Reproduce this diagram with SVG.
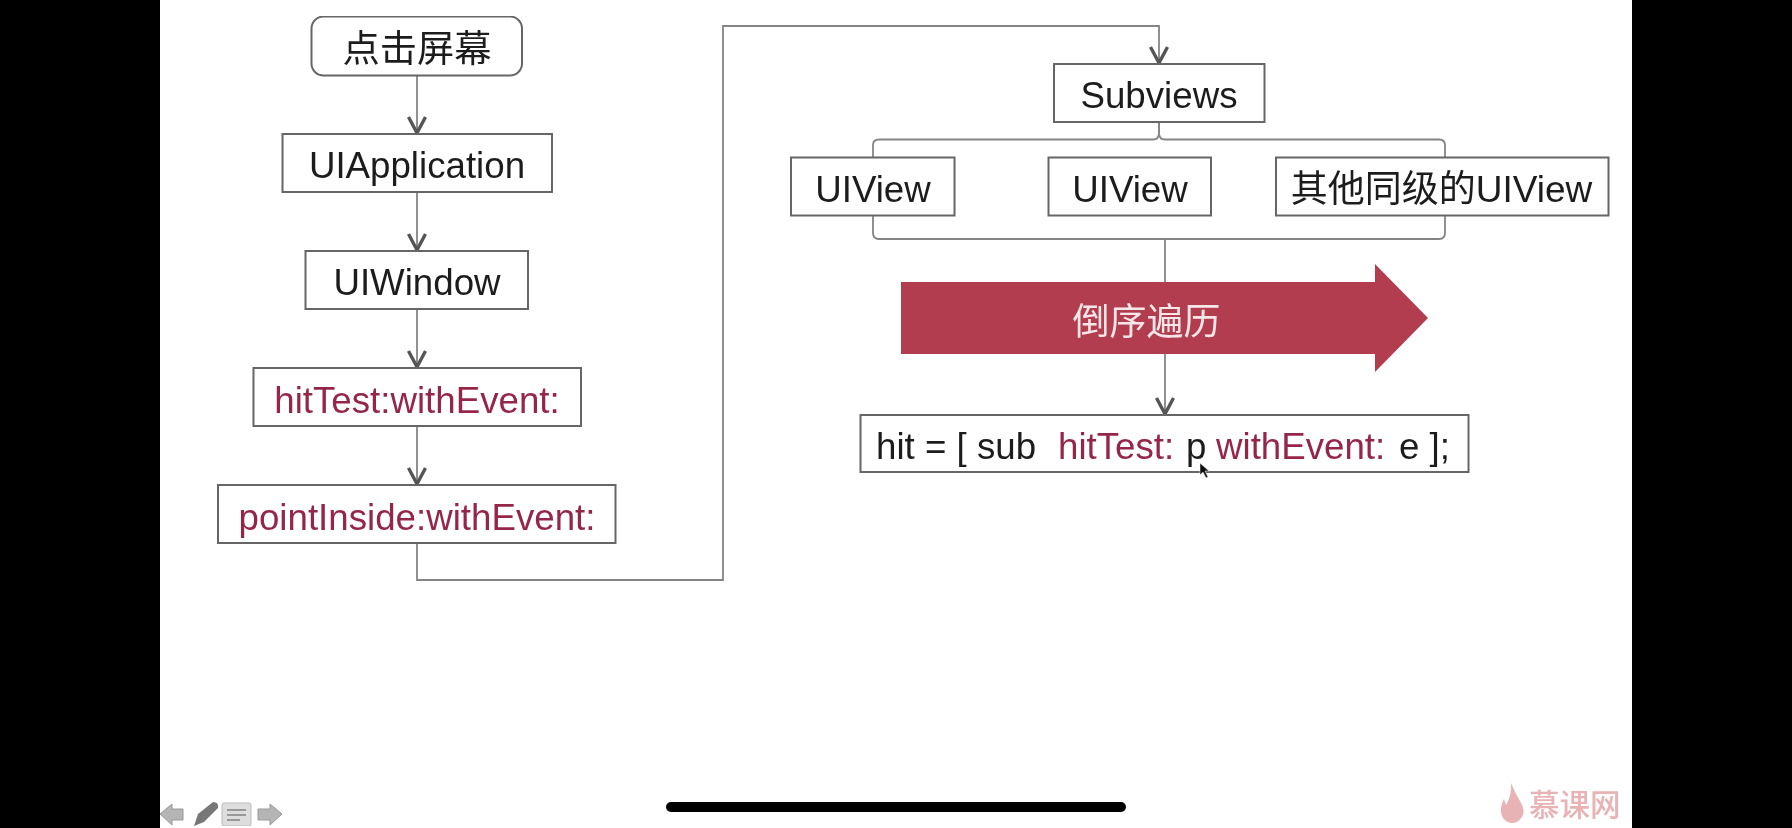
<svg xmlns="http://www.w3.org/2000/svg" width="1792" height="828" viewBox="0 0 1792 828">
<style>
.t{font-family:"Liberation Sans","Noto Sans CJK SC",sans-serif;font-size:36.7px;fill:#1c1c1c;text-anchor:middle}
.r{fill:#96264a}
.b{fill:#fff;stroke:#666;stroke-width:2}
.c{fill:none;stroke:#858585;stroke-width:1.8}
.l{font-family:"Liberation Sans","Noto Sans CJK SC",sans-serif;font-size:36.7px;fill:#1c1c1c}
.g{fill:#b5b5b5;stroke:#999;stroke-width:1}
</style>
<defs>
<marker id="arrow" markerUnits="userSpaceOnUse" markerWidth="24" markerHeight="24" refX="20" refY="12" orient="auto" viewBox="0 0 24 24">
<path d="M4 3.5 L20 12 L4 20.5" fill="none" stroke="#555" stroke-width="3.4"/>
</marker>
<filter id="soft" x="0" y="0" width="100%" height="100%"><feGaussianBlur stdDeviation="0.55"/></filter>
</defs>
<rect width="1792" height="828" fill="#000"/>
<rect x="160" width="1472" height="828" fill="#fff"/>
<g filter="url(#soft)">
<g id="connectors">
<path class="c" d="M417 76V133" marker-end="url(#arrow)"/>
<path class="c" d="M417 192V250" marker-end="url(#arrow)"/>
<path class="c" d="M417 309V367" marker-end="url(#arrow)"/>
<path class="c" d="M417 426V484" marker-end="url(#arrow)"/>
<path class="c" d="M417 543V580H723V26H1159V63" marker-end="url(#arrow)"/>
<path class="c" d="M1159 122V133Q1159 139.500 1153 139.500H879Q873 139.500 873 145V157"/>
<path class="c" d="M1159 122V133Q1159 139.500 1165 139.500H1439Q1445 139.500 1445 145V157"/>
<path class="c" d="M873 216V233Q873 239 879 239H1439Q1445 239 1445 233V216"/>
<path class="c" d="M1165 239V414" marker-end="url(#arrow)"/>
</g>
<g id="n-tap"><rect class="b" x="311.500" y="16.500" width="210.500" height="59" rx="12"/><text class="t" x="417" y="62" style="font-size:37.300px">点击屏幕</text></g>
<g id="n-app"><rect class="b" x="282.500" y="134" width="269.500" height="58"/><text class="t" x="417" y="178">UIApplication</text></g>
<g id="n-window"><rect class="b" x="305.500" y="251" width="222.500" height="58"/><text class="t" x="417" y="295">UIWindow</text></g>
<g id="n-hittest"><rect class="b" x="253.500" y="368" width="327.500" height="58"/><text class="t r" x="417" y="413">hitTest:withEvent:</text></g>
<g id="n-pointinside"><rect class="b" x="218" y="485" width="397.500" height="58"/><text class="t r" x="417" y="530">pointInside:withEvent:</text></g>
<g id="n-subviews"><rect class="b" x="1054" y="64" width="210.500" height="58"/><text class="t" x="1159" y="108">Subviews</text></g>
<g id="n-view1"><rect class="b" x="791" y="157.500" width="163.500" height="58"/><text class="t" x="873" y="202">UIView</text></g>
<g id="n-view2"><rect class="b" x="1048.500" y="157.500" width="162.500" height="58"/><text class="t" x="1130" y="202">UIView</text></g>
<g id="n-view3"><rect class="b" x="1276" y="157.500" width="332.500" height="58"/><text class="t" x="1441.500" y="202" style="font-size:37px">其他同级的UIView</text></g>
<g id="n-reverse"><polygon points="901,282 1375,282 1375,264 1428,318 1375,372 1375,354 901,354" fill="#b23d4f"/><text class="t" x="1146.500" y="335" style="fill:#f6e6e8;font-size:37px">倒序遍历</text></g>
<g id="n-call"><rect class="b" x="860.500" y="415" width="608" height="57"/>
<text class="l" y="459"><tspan x="876">hit = [ sub</tspan><tspan x="1058" class="r">hitTest:</tspan><tspan x="1186">p</tspan><tspan x="1216" class="r">withEvent:</tspan><tspan x="1399">e ];</tspan></text></g>
<polygon points="1200,463 1200,475 1203,472 1206,478 1208,477 1205,471 1209,471" fill="#111" stroke="#fff" stroke-width=".5"/>
<path d="M160 814L172 804V809H183V820H172V825Z" class="g"/>
<path d="M194 826L198 814L213 802Q219 802 218 808L204 822Z" fill="#777"/>
<rect x="222" y="803" width="29" height="23" rx="2" fill="#ddd" stroke="#bbb"/>
<path d="M227 810H246M227 815H246M227 820H240" stroke="#999" stroke-width="2"/>
<path d="M282 814L270 804V809H258V820H270V825Z" class="g"/>
<path d="M1511 783Q1515 793 1520 801Q1526 811 1522 817Q1518 823 1512 823Q1505 823 1502 816Q1499 808 1504 799L1506 805Q1512 795 1511 783Z" fill="#e8b3b5"/>
<text x="1529" y="816" style="font-family:'Noto Sans CJK SC',sans-serif;font-size:30.500px;font-weight:500;fill:#e8b3b5">慕课网</text>
</g>
<rect x="666" y="802" width="460" height="10" rx="5" fill="#000"/>
</svg>
